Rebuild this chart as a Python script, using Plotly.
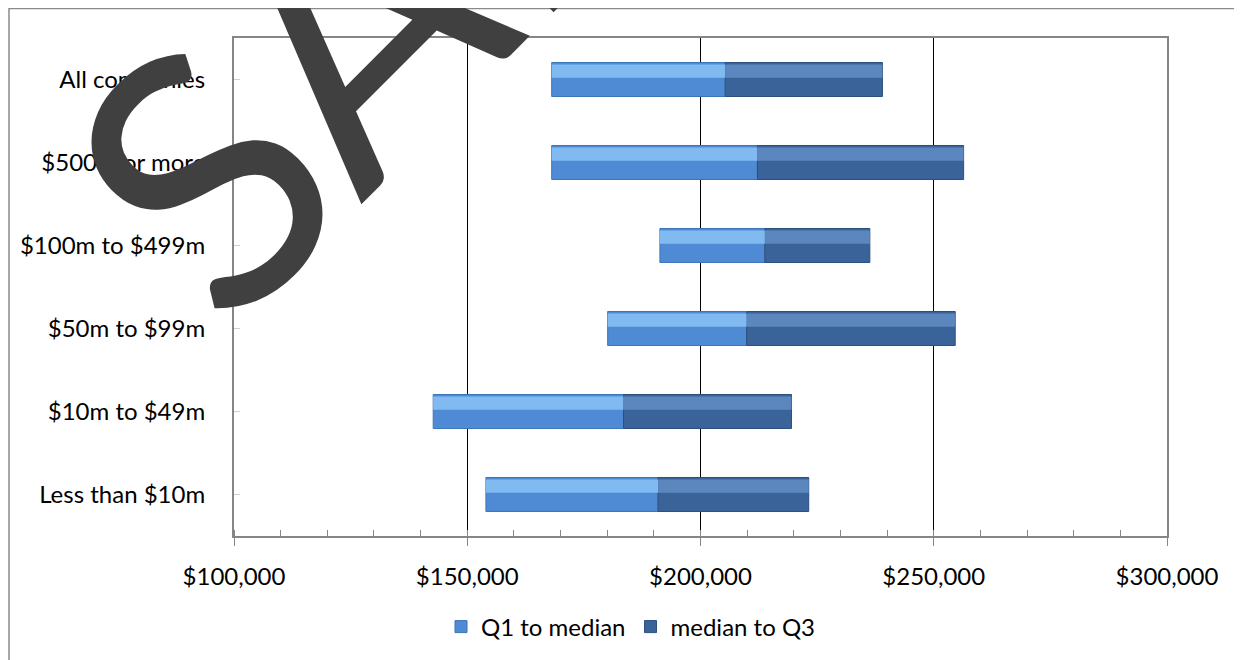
import plotly.graph_objects as go

# Categories, listed top-to-bottom as in the chart
categories = ["All companies", "$500m or more", "$100m to $499m",
              "$50m to $99m", "$10m to $49m", "Less than $10m"]
q1 = [168100, 168100, 191300, 180100, 142700, 154000]
median = [205300, 212200, 213800, 209900, 183500, 190900]
q3 = [239000, 256400, 236300, 254600, 219500, 223200]

series_names = ["Q1 to median", "median to Q3"]
x_ticks = [100000, 150000, 200000, 250000, 300000]

lo_len = [m - a for a, m in zip(q1, median)]
hi_len = [b - m for m, b in zip(median, q3)]

FONT = "Lato, 'Open Sans', sans-serif"
light_body, light_top, light_edge = "#4f8bd5", "#80baf1", "#3d74b8"
dark_body, dark_top, dark_edge = "#3a6399", "#5b87be", "#2c4f7e"

BAR_W = 0.41
fig = go.Figure()
# main bodies
fig.add_trace(go.Bar(y=categories, x=lo_len, base=q1, orientation="h",
                     name=series_names[0], width=BAR_W, offset=-BAR_W / 2,
                     marker=dict(color=light_body, line=dict(color=light_edge, width=1))))
fig.add_trace(go.Bar(y=categories, x=hi_len, base=median, orientation="h",
                     name=series_names[1], width=BAR_W, offset=-BAR_W / 2,
                     marker=dict(color=dark_body, line=dict(color=dark_edge, width=1))))
# bevel highlight on upper half
fig.add_trace(go.Bar(y=categories, x=lo_len, base=q1, orientation="h",
                     showlegend=False, width=0.16, offset=0.02,
                     marker=dict(color=light_top, line=dict(width=0))))
fig.add_trace(go.Bar(y=categories, x=hi_len, base=median, orientation="h",
                     showlegend=False, width=0.16, offset=0.02,
                     marker=dict(color=dark_top, line=dict(width=0))))

# page offset of the figure (browser body margin)
OFF = 8
W, H = 1242, 660
# plot-area in figure pixels (page position minus offset)
L, R, T, B = 234 - OFF, 1167 - OFF, 38 - OFF, 536 - OFF

def px(xp):  # page pixel x -> paper
    return (xp - OFF - L) / (R - L)

def py(yp):  # page pixel y -> paper
    return (B - (yp - OFF)) / (B - T)

fig.update_layout(
    width=W, height=H,
    margin=dict(l=L, r=W - R, t=T, b=H - B),
    paper_bgcolor="white", plot_bgcolor="white",
    barmode="overlay",
    font=dict(family=FONT, size=24, color="black"),
    showlegend=True,
    legend=dict(orientation="h", x=px(631), xanchor="center",
                y=py(627), yanchor="middle", font=dict(size=24),
                traceorder="normal", itemwidth=30),
    xaxis=dict(range=[100000, 300000], tickvals=x_ticks,
               tickformat="$,.0f", showgrid=True, gridcolor="black", gridwidth=1,
               showline=True, linecolor="#868686", linewidth=2, mirror=True,
               ticks="outside", ticklen=8, tickcolor="#868686", tickwidth=1,
               ticklabelstandoff=10, zeroline=False,
               minor=dict(dtick=10000, ticks="inside", ticklen=6,
                          tickcolor="#868686", showgrid=False)),
    yaxis=dict(categoryorder="array", categoryarray=categories[::-1],
               range=[-0.5, 5.5], showgrid=False,
               showline=True, linecolor="#868686", linewidth=2, mirror=True,
               ticks="inside", ticklen=6, tickcolor="#d0d0d0",
               ticklabelstandoff=22),
)

# outer chart-area border (cropped at right and bottom)
fig.add_shape(type="path", xref="paper", yref="paper",
              path=f"M {px(9)} {py(700)} L {px(9)} {py(8.5)} L {px(1300)} {py(8.5)}",
              line=dict(color="#8a8a8a", width=1.5), layer="above")

# SAMPLE watermark
fig.add_annotation(text="SAMPLE", xref="paper", yref="paper",
                   x=px(611), y=py(-239), xanchor="center", yanchor="middle",
                   showarrow=False, textangle=-45,
                   font=dict(family=FONT, size=355, color="#404040"))

fig.write_html("out.html")
